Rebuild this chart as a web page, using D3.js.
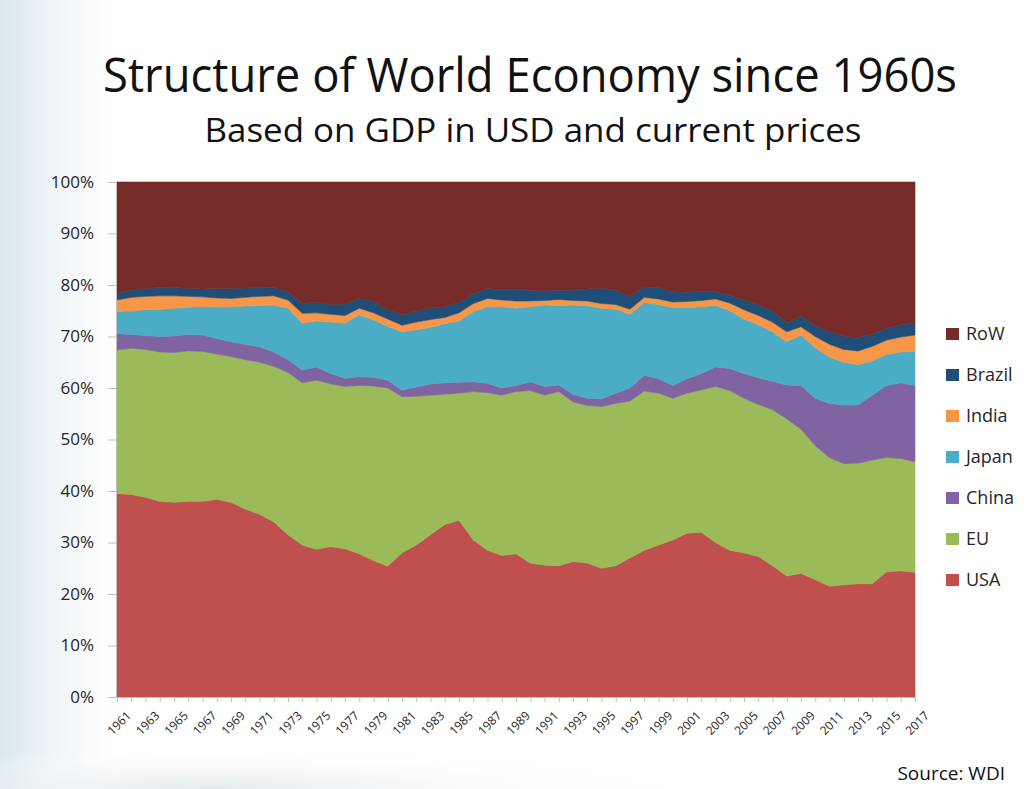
<!DOCTYPE html>
<html>
<head>
<meta charset="utf-8">
<script src="https://cdn.jsdelivr.net/npm/d3@7"></script>
<style>
  html, body { margin: 0; padding: 0; background: #ffffff; }
  svg { display: block; }
</style>
</head>
<body>
<svg id="chart" width="1031" height="789"></svg>
<script>
// ---------------- data ----------------
const years = [1961,1962,1963,1964,1965,1966,1967,1968,1969,1970,
  1971,1972,1973,1974,1975,1976,1977,1978,1979,1980,
  1981,1982,1983,1984,1985,1986,1987,1988,1989,1990,
  1991,1992,1993,1994,1995,1996,1997,1998,1999,2000,
  2001,2002,2003,2004,2005,2006,2007,2008,2009,2010,
  2011,2012,2013,2014,2015,2016,2017];

const seriesNames = ["USA", "EU", "China", "Japan", "India", "Brazil", "RoW"];

const usa = [39.5,39.3,38.8,38.0,37.8,38.0,38.0,38.4,37.8,36.5,
  35.5,34.0,31.5,29.5,28.7,29.2,28.8,27.8,26.5,25.4,
  28.0,29.5,31.5,33.5,34.3,30.5,28.5,27.5,27.8,26.0,
  25.6,25.5,26.3,26.0,25.0,25.5,27.0,28.5,29.5,30.5,
  31.8,32.0,30.0,28.5,28.0,27.3,25.5,23.5,24.0,22.8,
  21.5,21.8,22.0,22.0,24.3,24.5,24.2];

const eu = [27.9,28.4,28.7,29.0,29.1,29.2,29.1,28.2,28.3,29.0,
  29.5,30.2,31.5,31.5,32.8,31.6,31.5,32.7,33.9,34.6,
  30.3,28.9,27.1,25.3,24.7,28.8,30.6,31.1,31.5,33.5,
  33.0,33.8,31.0,30.6,31.4,31.5,30.5,30.9,29.5,27.5,
  27.2,27.6,30.3,31.0,30.0,29.5,30.3,30.5,28.0,26.0,
  25.0,23.5,23.4,24.0,22.2,21.8,21.5];

const china = [3.2,2.7,2.7,3.0,3.2,3.2,3.2,3.0,2.9,3.0,
  3.0,2.8,2.5,2.5,2.6,2.0,1.6,1.7,1.7,1.5,
  1.3,1.8,2.2,2.2,2.1,1.9,1.8,1.4,1.2,1.7,
  1.7,1.3,1.5,1.4,1.5,2.0,2.5,3.1,2.8,2.5,
  2.8,3.2,3.8,4.3,4.8,5.2,5.5,6.6,8.5,9.2,
  10.5,11.4,11.3,12.6,14.0,14.7,14.8];

const japan = [4.2,4.6,5.0,5.3,5.4,5.3,5.5,6.2,6.8,7.4,
  8.0,9.1,10.0,9.1,8.9,10.0,10.7,12.0,11.1,10.5,
  11.3,11.1,11.0,11.5,11.9,13.6,14.9,15.8,15.0,14.6,
  15.8,15.4,17.3,18.0,17.6,16.3,14.3,14.1,14.4,15.1,
  13.8,13.0,11.9,11.2,10.6,10.3,9.6,8.4,9.8,9.8,
  9.0,8.3,7.8,6.7,6.0,6.0,6.6];

const india = [2.3,2.6,2.6,2.6,2.4,2.1,1.9,1.7,1.6,1.7,
  1.8,1.8,1.6,1.9,1.6,1.5,1.5,1.3,1.4,1.4,
  1.3,1.5,1.5,1.2,1.6,1.6,1.6,1.3,1.4,1.1,
  0.9,1.2,0.9,0.9,0.9,0.9,1.0,1.0,1.1,1.1,
  1.2,1.2,1.3,1.5,1.8,1.8,1.9,1.9,1.6,2.2,
  2.5,2.5,2.7,2.8,2.8,2.9,3.2];

const brazil = [1.3,1.4,1.5,1.6,1.6,1.5,1.5,1.8,1.9,1.8,
  1.7,1.6,1.6,1.9,2.1,1.9,2.2,1.9,2.2,1.8,
  2.0,2.1,2.3,2.1,2.0,1.9,1.9,2.0,2.3,2.1,
  1.9,1.8,2.0,2.3,3.0,2.8,2.5,2.0,2.2,2.0,
  1.8,1.8,1.4,1.5,1.9,2.1,2.2,1.7,2.1,2.1,
  2.4,2.6,2.6,2.4,2.3,2.4,2.3];

const row = [21.6,21.0,20.7,20.5,20.5,20.7,20.8,20.7,20.7,20.6,
  20.5,20.5,21.3,23.6,23.3,23.8,23.7,22.6,23.2,24.8,
  25.8,25.1,24.4,24.2,23.4,21.7,20.7,20.9,20.8,21.0,
  21.1,21.0,21.0,20.8,20.6,21.0,22.2,20.4,20.5,21.3,
  21.4,21.2,21.3,22.0,22.9,23.8,25.0,27.4,26.0,27.9,
  29.1,29.9,30.2,29.5,28.4,27.7,27.4];

const yTickValues = [0,10,20,30,40,50,60,70,80,90,100];
const xLabelYears = [1961,1963,1965,1967,1969,1971,1973,1975,1977,1979,1981,1983,1985,1987,1989,
  1991,1993,1995,1997,1999,2001,2003,2005,2007,2009,2011,2013,2015,2017];

const titleText = "Structure of World Economy since 1960s";
const subtitleText = "Based on GDP in USD and current prices";
const sourceText = "Source: WDI";

// ---------------- build table ----------------
const valuesByName = { USA: usa, EU: eu, China: china, Japan: japan, India: india, Brazil: brazil, RoW: row };
const table = years.map((yr, i) => {
  const o = { year: yr };
  seriesNames.forEach(n => { o[n] = valuesByName[n][i]; });
  return o;
});

const colors = {
  USA: "#C0504D",
  EU: "#9BBB59",
  China: "#8064A2",
  Japan: "#4BACC6",
  India: "#F79646",
  Brazil: "#1F4E79",
  RoW: "#772B28"
};

// ---------------- drawing ----------------
const svg = d3.select("#chart");
const W = 1031, H = 789;
const plot = { left: 117, right: 915, top: 182, bottom: 697 };

// slide-like background
const defs = svg.append("defs");
const lg = defs.append("linearGradient").attr("id", "leftGlow").attr("x1", "0").attr("x2", "1").attr("y1", "0").attr("y2", "0");
lg.append("stop").attr("offset", "0%").attr("stop-color", "#d9e7ee");
lg.append("stop").attr("offset", "45%").attr("stop-color", "#eef4f7");
lg.append("stop").attr("offset", "100%").attr("stop-color", "#ffffff");
svg.append("rect").attr("width", W).attr("height", H).attr("fill", "#ffffff");
svg.append("rect").attr("x", 0).attr("y", 0).attr("width", 110).attr("height", H).attr("fill", "url(#leftGlow)");
const rg = defs.append("radialGradient").attr("id", "bottomGlow").attr("cx", "0.3").attr("cy", "1").attr("r", "0.7");
rg.append("stop").attr("offset", "0%").attr("stop-color", "#e3eaee").attr("stop-opacity", 1);
rg.append("stop").attr("offset", "100%").attr("stop-color", "#ffffff").attr("stop-opacity", 0);
svg.append("rect").attr("x", 0).attr("y", 730).attr("width", 700).attr("height", 59).attr("fill", "url(#bottomGlow)");

const x = d3.scalePoint().domain(years).range([plot.left, plot.right]);
const y = d3.scaleLinear().domain([0, 100]).range([plot.bottom, plot.top]);

const stacked = d3.stack().keys(seriesNames)(table);

const area = d3.area()
  .x(d => x(d.data.year))
  .y0(d => y(d[0]))
  .y1(d => y(d[1]))
  .curve(d3.curveLinear);

svg.append("g").selectAll("path")
  .data(stacked)
  .join("path")
  .attr("d", area)
  .attr("fill", d => colors[d.key])
  .attr("stroke", d => colors[d.key])
  .attr("stroke-width", 0.6);

// Y axis
const yAxis = d3.axisLeft(y)
  .tickValues(yTickValues)
  .tickFormat(d => d + "%")
  .tickSize(8)
  .tickPadding(14);
const gy = svg.append("g").attr("transform", `translate(${plot.left - 1},0)`).call(yAxis);
gy.select(".domain").attr("stroke", "#bfbfbf");
gy.selectAll(".tick line").attr("stroke", "#bfbfbf");
gy.selectAll("text")
  .attr("font-family", "'Open Sans', 'DejaVu Sans', sans-serif")
  .attr("font-size", 17)
  .attr("fill", "#262626");

// X axis
const xAxis = d3.axisBottom(x)
  .tickValues(years)
  .tickFormat(d => xLabelYears.includes(d) ? String(d) : "")
  .tickSize(5)
  .tickPadding(4);
const gx = svg.append("g").attr("transform", `translate(0,${plot.bottom})`).call(xAxis);
gx.select(".domain").attr("stroke", "#bfbfbf");
gx.selectAll(".tick line").attr("stroke", "#bfbfbf");
gx.selectAll("text")
  .attr("font-family", "'Open Sans', 'DejaVu Sans', sans-serif")
  .attr("font-size", 12)
  .attr("fill", "#262626")
  .attr("text-anchor", "end")
  .attr("dy", "0.35em")
  .attr("transform", "translate(5,10) rotate(-45)");

// Title / subtitle
svg.append("text")
  .attr("x", 530).attr("y", 92)
  .attr("text-anchor", "middle")
  .attr("font-family", "'Open Sans', 'Lato', sans-serif")
  .attr("font-size", 47)
  .attr("fill", "#111111")
  .attr("textLength", 854)
  .attr("lengthAdjust", "spacingAndGlyphs")
  .text(titleText);

svg.append("text")
  .attr("x", 533).attr("y", 142)
  .attr("text-anchor", "middle")
  .attr("font-family", "'Open Sans', 'Lato', sans-serif")
  .attr("font-size", 32)
  .attr("fill", "#111111")
  .attr("textLength", 657)
  .attr("lengthAdjust", "spacingAndGlyphs")
  .text(subtitleText);

// Legend (top to bottom: RoW ... USA)
const legendNames = seriesNames.slice().reverse();
const leg = svg.append("g").selectAll("g")
  .data(legendNames)
  .join("g")
  .attr("transform", (d, i) => `translate(946,${334 + i * 41})`);
leg.append("rect")
  .attr("x", 0).attr("y", -6)
  .attr("width", 13).attr("height", 12)
  .attr("fill", d => colors[d]);
leg.append("text")
  .attr("x", 20).attr("y", 0)
  .attr("dy", "0.36em")
  .attr("font-family", "'Open Sans', 'DejaVu Sans', sans-serif")
  .attr("font-size", 18)
  .attr("fill", "#262626")
  .text(d => d);

// Source
svg.append("text")
  .attr("x", 1005).attr("y", 780)
  .attr("text-anchor", "end")
  .attr("font-family", "'Open Sans', 'DejaVu Sans', sans-serif")
  .attr("font-size", 19)
  .attr("fill", "#111111")
  .text(sourceText);
</script>
</body>
</html>
